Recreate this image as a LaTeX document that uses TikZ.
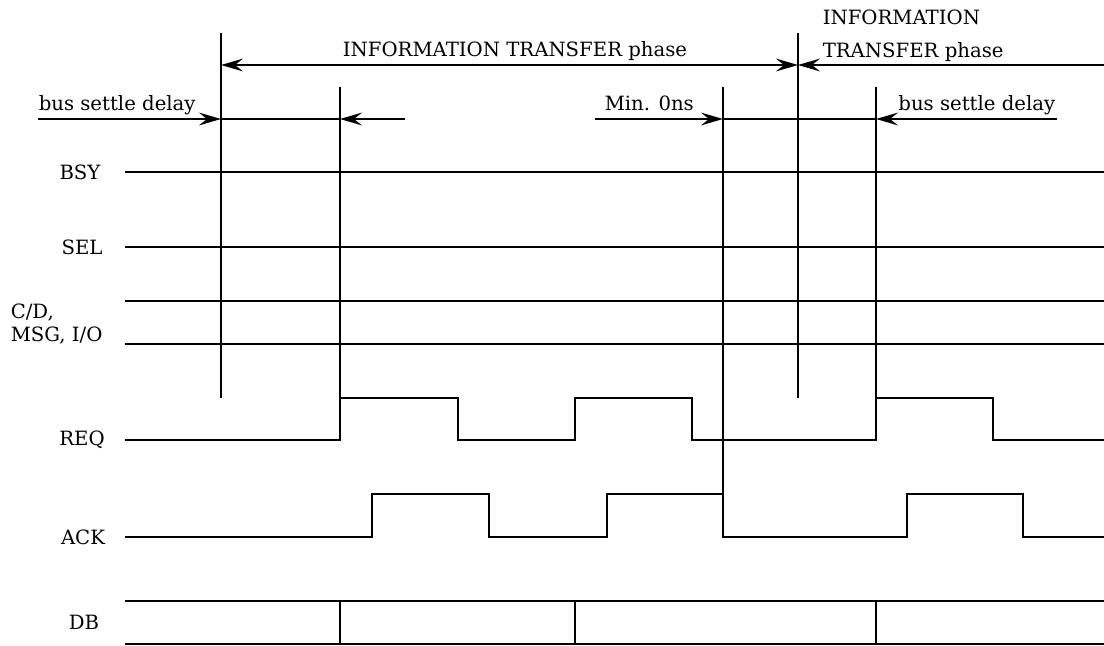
\documentclass[tikz,border=0pt]{standalone}
\usepackage{fontspec}
\setmainfont{DejaVu Serif}
\usetikzlibrary{arrows.meta}

\begin{document}
\begin{tikzpicture}[x=0.025cm,y=-0.025cm,line width=1.1pt,
  tip/.style={-{Stealth[length=5.5mm,width=3.2mm,inset=2mm]}},
  tips/.style={{Stealth[length=5.5mm,width=3.2mm,inset=2mm]}-{Stealth[length=5.5mm,width=3.2mm,inset=2mm]}},
  lbl/.style={font=\fontsize{14}{17}\selectfont,inner sep=0pt}]
\useasboundingbox (0,0) rectangle (1104,645);

% phase boundaries and edges
\foreach \x/\ytop/\ybot in {221/33/398, 340/87/440, 723/87/537, 798/33/398, 876/87/440}{
\draw (\x,\ytop) -- (\x,\ybot);
}

% steady signals
\foreach \y in {172,247,301,344,601,644}{
\draw (125,\y) -- (1104,\y);
}
\foreach \x in {340,575,876}{
\draw (\x,601) -- (\x,644);
}

% REQ and ACK
\draw (125,440) -- (340,440) -- (340,398) -- (458,398) -- (458,440) -- (575,440) -- (575,398) -- (692,398) -- (692,440)
  -- (876,440) -- (876,398) -- (993,398) -- (993,440) -- (1104,440);
\draw (125,537) -- (372,537) -- (372,494) -- (489,494) -- (489,537) -- (607,537) -- (607,494) -- (723,494) -- (723,537)
  -- (907,537) -- (907,494) -- (1023,494) -- (1023,537) -- (1104,537);

% signal names
\node[lbl] (bsy) at (80,172) {BSY};
\node[lbl] (sel) at (82,247) {SEL};
\node[lbl,anchor=west,align=left] (cd) at (10,324) {C/D,\\MSG, I/O};
\node[lbl] (req) at (82,440) {REQ};
\node[lbl] (ack) at (83,537) {ACK};
\node[lbl] (db) at (84,622) {DB};

% timing arrows
\coordinate (p1) at (221,65);
\coordinate (p2) at (798,65);
\coordinate (p3) at (1104,65);
\coordinate (s1) at (38,119);
\coordinate (s2) at (221,119);
\coordinate (s3) at (340,119);
\coordinate (s4) at (405,119);
\coordinate (s5) at (595,119);
\coordinate (s6) at (723,119);
\coordinate (s7) at (876,119);
\coordinate (s8) at (1057,119);
\draw[tips] (p1) -- (p2);
\draw[tip] (p3) -- (p2);
\draw[tip] (s1) -- (s2);
\draw (s2) -- (s3);
\draw[tip] (s4) -- (s3);
\draw[tip] (s5) -- (s6);
\draw (s6) -- (s7);
\draw[tip] (s8) -- (s7);

\node[lbl,anchor=base] (itp) at (515,56) {INFORMATION TRANSFER phase};
\node[lbl,anchor=base west,align=left,font=\fontsize{14}{23}\selectfont] (itp2) at (822,57) {INFORMATION\\TRANSFER phase};
\node[lbl,anchor=base west] (bsd1) at (38,110) {bus settle delay};
\node[lbl,anchor=base west] (min) at (604,110) {Min. 0ns};
\node[lbl,anchor=base east] (bsd2) at (1056,110) {bus settle delay};
\end{tikzpicture}
\end{document}
